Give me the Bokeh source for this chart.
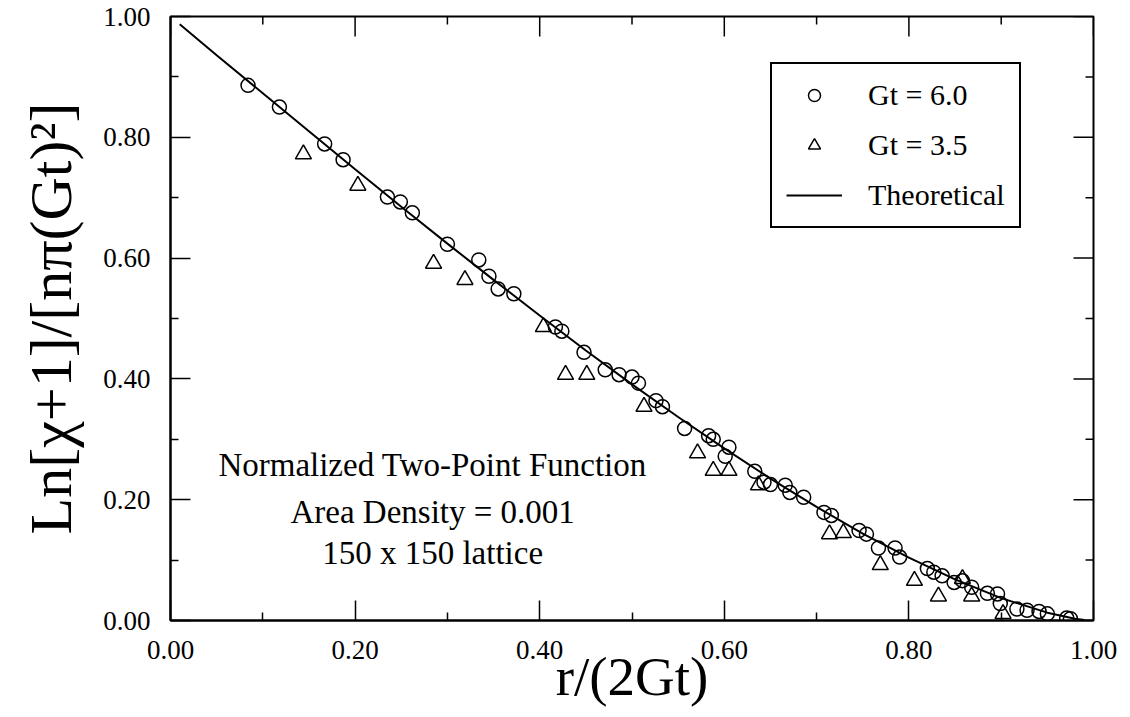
from bokeh.plotting import figure
from bokeh.models import (Range1d, LinearAxis, FixedTicker, PrintfTickFormatter,
                          Legend, LegendItem, Label)
from bokeh.embed import file_html
from bokeh.resources import INLINE

# ---- data ----
theo_x = [0.01, 0.05, 0.10, 0.15, 0.20, 0.25, 0.30, 0.35, 0.40, 0.45, 0.50, 0.55,
          0.60, 0.65, 0.70, 0.75, 0.80, 0.85, 0.90, 0.95, 0.98, 0.99]
theo_y = [0.987, 0.936, 0.873, 0.810, 0.747, 0.685, 0.624, 0.564, 0.505, 0.447, 0.391, 0.337,
          0.285, 0.235, 0.188, 0.144, 0.104, 0.068, 0.037, 0.013, 0.003, 0.001]

gt6_x = [0.084, 0.118, 0.167, 0.187, 0.235, 0.249, 0.262, 0.300, 0.334, 0.345, 0.355, 0.372,
         0.417, 0.424, 0.448, 0.471, 0.486, 0.500, 0.507, 0.526, 0.533, 0.557, 0.583, 0.588,
         0.601, 0.605, 0.633, 0.643, 0.650, 0.666, 0.671, 0.686, 0.708, 0.716, 0.746, 0.754,
         0.767, 0.785, 0.790, 0.820, 0.827, 0.836, 0.849, 0.858, 0.868, 0.885, 0.896, 0.899,
         0.917, 0.928, 0.941, 0.950, 0.971, 0.975]
gt6_y = [0.886, 0.850, 0.789, 0.763, 0.701, 0.693, 0.675, 0.623, 0.597, 0.570, 0.549, 0.541,
         0.486, 0.479, 0.444, 0.415, 0.407, 0.403, 0.393, 0.364, 0.354, 0.318, 0.306, 0.300,
         0.272, 0.287, 0.247, 0.229, 0.225, 0.224, 0.212, 0.204, 0.179, 0.174, 0.149, 0.143,
         0.120, 0.120, 0.105, 0.086, 0.080, 0.074, 0.063, 0.066, 0.055, 0.045, 0.044, 0.028,
         0.019, 0.017, 0.015, 0.011, 0.004, 0.003]

gt35_x = [0.144, 0.203, 0.285, 0.319, 0.404, 0.428, 0.451, 0.513, 0.571, 0.588, 0.605, 0.637,
          0.714, 0.729, 0.769, 0.806, 0.832, 0.858, 0.868, 0.902]
gt35_y = [0.772, 0.720, 0.591, 0.564, 0.486, 0.407, 0.407, 0.354, 0.277, 0.248, 0.248, 0.224,
          0.143, 0.145, 0.092, 0.066, 0.040, 0.069, 0.040, 0.011]

major_ticks = [0.0, 0.2, 0.4, 0.6, 0.8, 1.0]
minor_ticks = [0.1, 0.3, 0.5, 0.7, 0.9]

x_label = "r/(2Gt)"
y_label = "Ln[\u03c7+1]/[n\u03c0(Gt)\u00b2]"
note_lines = ["Normalized Two-Point Function", "Area Density = 0.001", "150 x 150 lattice"]
legend_labels = ["Gt = 6.0", "Gt = 3.5", "Theoretical"]

FONT = "Liberation Serif"
FRAME_W, FRAME_H = 923, 604
MAJOR_LEN, MINOR_LEN = 20, 8

p = figure(width=1130, height=717, output_backend="svg", toolbar_location=None,
           x_range=Range1d(0, 1), y_range=Range1d(0, 1),
           min_border_left=170, min_border_right=37, min_border_top=16, min_border_bottom=97,
           x_axis_type=None, y_axis_type=None)
p.xgrid.visible = False
p.ygrid.visible = False
p.outline_line_color = "black"
p.outline_line_width = 2
p.outline_line_alpha = 1
p.background_fill_color = "white"
p.border_fill_color = "white"


def style_axis(ax):
    ax.ticker = FixedTicker(ticks=major_ticks, minor_ticks=minor_ticks)
    ax.formatter = PrintfTickFormatter(format="%.2f")
    ax.axis_line_color = "black"
    ax.axis_line_width = 2
    ax.major_tick_in = MAJOR_LEN
    ax.major_tick_out = 0
    ax.minor_tick_in = MINOR_LEN
    ax.minor_tick_out = 0
    ax.major_tick_line_width = 1.5
    ax.minor_tick_line_width = 1.5
    ax.major_tick_line_color = "black"
    ax.minor_tick_line_color = "black"
    ax.major_label_text_font = FONT
    ax.major_label_text_color = "black"
    ax.major_label_text_font_size = "27px"
    ax.axis_label_text_font = FONT
    ax.axis_label_text_color = "black"
    ax.axis_label_text_font_style = "normal"


xb = LinearAxis()
style_axis(xb)
xb.major_label_standoff = 20
xb.axis_label = x_label
xb.axis_label_text_font_size = "55px"
xb.axis_label_standoff = -16
p.add_layout(xb, "below")

yl = LinearAxis()
style_axis(yl)
yl.major_label_standoff = 20
yl.axis_label = y_label
yl.axis_label_text_font_size = "60px"
yl.axis_label_standoff = 16
p.add_layout(yl, "left")

# tick marks on the top and right edges of the frame (no labels)
top_major_len = MAJOR_LEN / FRAME_H
top_minor_len = MINOR_LEN / FRAME_H
right_major_len = MAJOR_LEN / FRAME_W
right_minor_len = MINOR_LEN / FRAME_W
p.segment(x0=major_ticks, x1=major_ticks, y0=[1.0] * len(major_ticks),
          y1=[1.0 - top_major_len] * len(major_ticks), line_color="black", line_width=1.5)
p.segment(x0=minor_ticks, x1=minor_ticks, y0=[1.0] * len(minor_ticks),
          y1=[1.0 - top_minor_len] * len(minor_ticks), line_color="black", line_width=1.5)
p.segment(x0=[1.0] * len(major_ticks), x1=[1.0 - right_major_len] * len(major_ticks),
          y0=major_ticks, y1=major_ticks, line_color="black", line_width=1.5)
p.segment(x0=[1.0] * len(minor_ticks), x1=[1.0 - right_minor_len] * len(minor_ticks),
          y0=minor_ticks, y1=minor_ticks, line_color="black", line_width=1.5)

r_theo = p.line(theo_x, theo_y, line_color="black", line_width=2)
r6 = p.scatter(gt6_x, gt6_y, marker="circle", size=14, fill_color=None,
               line_color="black", line_width=1.5)
r35 = p.scatter(gt35_x, gt35_y, marker="triangle", size=16, fill_color=None,
                line_color="black", line_width=1.5)

legend = Legend(items=[LegendItem(label=legend_labels[0], renderers=[r6]),
                       LegendItem(label=legend_labels[1], renderers=[r35]),
                       LegendItem(label=legend_labels[2], renderers=[r_theo])],
                location=(600, 392))
legend.label_text_font = FONT
legend.label_text_font_size = "30px"
legend.label_text_color = "black"
legend.glyph_width = 56
legend.glyph_height = 30
legend.label_standoff = 26
legend.spacing = 16
legend.padding = 14
legend.margin = 0
legend.border_line_color = "black"
legend.border_line_width = 2
legend.border_line_alpha = 1
legend.background_fill_color = "white"
legend.background_fill_alpha = 1
p.add_layout(legend)

for line, yv in zip(note_lines, [0.257, 0.180, 0.111]):
    p.add_layout(Label(x=0.284, y=yv, text=line, text_align="center", text_baseline="middle",
                       text_font=FONT, text_font_size="33px", text_color="black"))

open("out.html", "w").write(file_html(p, INLINE))
